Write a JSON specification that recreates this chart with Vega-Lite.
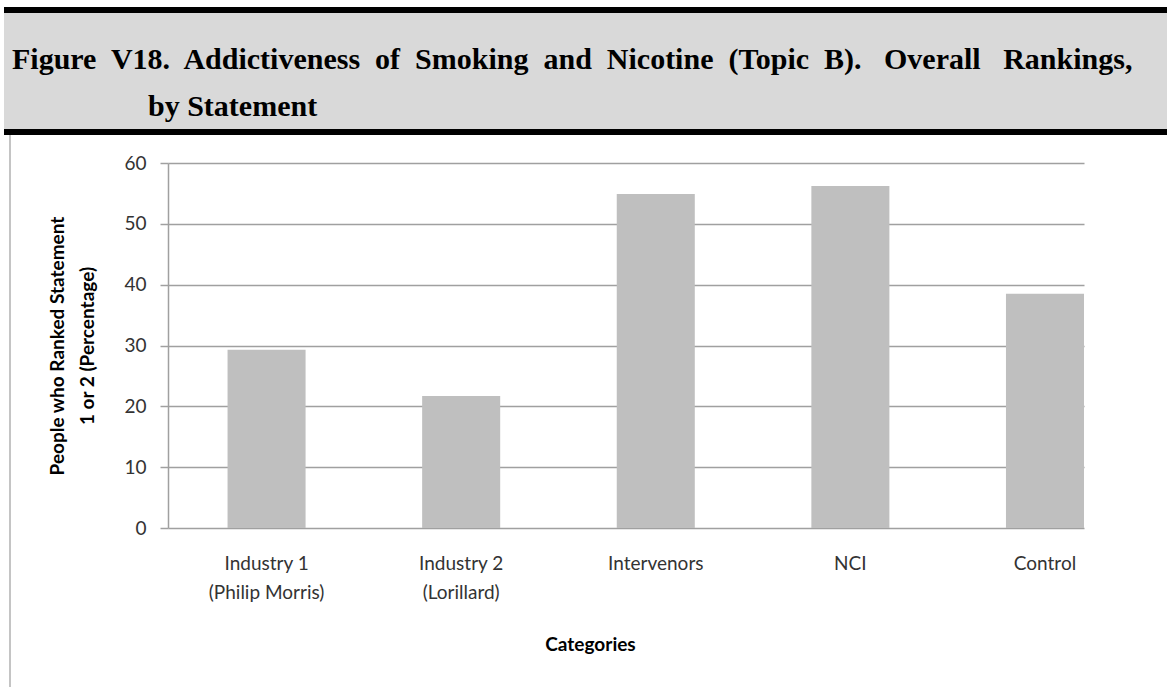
{
  "$schema": "https://vega.github.io/schema/vega-lite/v6.json",
  "padding": {"left": 4, "top": 7, "right": 0, "bottom": 0},
  "background": "white",
  "spacing": 0,
  "vconcat": [
    {
      "spacing": 0,
      "vconcat": [
        {
          "width": 1163,
          "height": 6,
          "view": {"fill": "#000000", "stroke": null},
          "data": {"values": []},
          "mark": {"type": "point"},
          "encoding": {}
        },
        {
          "width": 1163,
          "height": 64,
          "view": {"fill": "#D9D9D9", "stroke": null},
          "title": {
            "text": "Figure\u00a0 V18.\u00a0 Addictiveness\u00a0 of\u00a0 Smoking\u00a0 and\u00a0 Nicotine\u00a0 (Topic\u00a0 B).\u00a0\u00a0 Overall\u00a0\u00a0 Rankings,",
            "anchor": "start",
            "frame": "group",
            "orient": "top",
            "offset": -62,
            "dx": 8,
            "font": "Liberation Serif",
            "fontWeight": "bold",
            "fontSize": 30,
            "color": "#000000"
          },
          "data": {"values": []},
          "mark": {"type": "point"},
          "encoding": {}
        },
        {
          "width": 1163,
          "height": 52,
          "view": {"fill": "#D9D9D9", "stroke": null},
          "title": {
            "text": "by Statement",
            "anchor": "start",
            "frame": "group",
            "orient": "top",
            "offset": -45,
            "dx": 144,
            "font": "Liberation Serif",
            "fontWeight": "bold",
            "fontSize": 30,
            "color": "#000000"
          },
          "data": {"values": []},
          "mark": {"type": "point"},
          "encoding": {}
        },
        {
          "width": 1163,
          "height": 6,
          "view": {"fill": "#000000", "stroke": null},
          "data": {"values": []},
          "mark": {"type": "point"},
          "encoding": {}
        }
      ]
    },
    {
      "spacing": 0,
      "hconcat": [
        {
          "width": 5,
          "height": 10,
          "view": {"stroke": null},
          "data": {"values": []},
          "mark": {"type": "point"},
          "encoding": {}
        },
        {
          "width": 2,
          "height": 560,
          "view": {"fill": "#C4C4C4", "stroke": null},
          "data": {"values": []},
          "mark": {"type": "point"},
          "encoding": {}
        },
        {
          "width": 37,
          "height": 10,
          "view": {"stroke": null},
          "data": {"values": []},
          "mark": {"type": "point"},
          "encoding": {}
        },
        {
          "spacing": 0,
          "vconcat": [
            {
              "width": 10,
              "height": 19,
              "view": {"stroke": null},
              "data": {"values": []},
              "mark": {"type": "point"},
              "encoding": {}
            },
            {
              "width": 916,
              "height": 365,
              "view": {"stroke": null},
              "data": {
                "values": [
                  {"category": "Industry 1 (Philip Morris)", "pct": 29.3},
                  {"category": "Industry 2 (Lorillard)", "pct": 21.7},
                  {"category": "Intervenors", "pct": 54.9},
                  {"category": "NCI", "pct": 56.2},
                  {"category": "Control", "pct": 38.5}
                ]
              },
              "mark": {"type": "bar", "color": "#BFBFBF"},
              "encoding": {
                "x": {
                  "field": "category",
                  "type": "nominal",
                  "sort": null,
                  "scale": {"paddingInner": 0.599, "paddingOuter": 0.153, "align": 1},
                  "axis": {
                    "title": "Categories",
                    "titleFont": "Lato",
                    "titleFontSize": 19,
                    "titleFontWeight": "bold",
                    "titleColor": "#000000",
                    "titleX": 422,
                    "titlePadding": 33,
                    "labelAngle": 0,
                    "labelFont": "Lato",
                    "labelFontSize": 19,
                    "labelColor": "#333333",
                    "labelPadding": 26,
                    "labelLineHeight": 29,
                    "labelExpr": "indexof(datum.label, ' (') > 0 ? [substring(datum.label, 0, indexof(datum.label, ' (')), substring(datum.label, indexof(datum.label, ' (') + 1)] : datum.label",
                    "domain": false,
                    "ticks": false
                  }
                },
                "y": {
                  "field": "pct",
                  "type": "quantitative",
                  "scale": {"domain": [0, 60], "nice": false},
                  "axis": {
                    "title": ["People who Ranked Statement", "1 or 2 (Percentage)"],
                    "titleFont": "Lato",
                    "titleFontSize": 19,
                    "titleFontWeight": "bold",
                    "titleColor": "#000000",
                    "titleLineHeight": 30,
                    "titlePadding": 26,
                    "values": [0, 10, 20, 30, 40, 50, 60],
                    "labelFont": "Lato",
                    "labelFontSize": 19,
                    "labelColor": "#333333",
                    "labelPadding": 14,
                    "tickSize": 8,
                    "tickColor": "#A0A0A0",
                    "tickWidth": 1.5,
                    "domainColor": "#A0A0A0",
                    "domainWidth": 1.5,
                    "grid": true,
                    "gridColor": "#A0A0A0",
                    "gridWidth": 1.5
                  }
                }
              }
            }
          ]
        }
      ]
    }
  ]
}
